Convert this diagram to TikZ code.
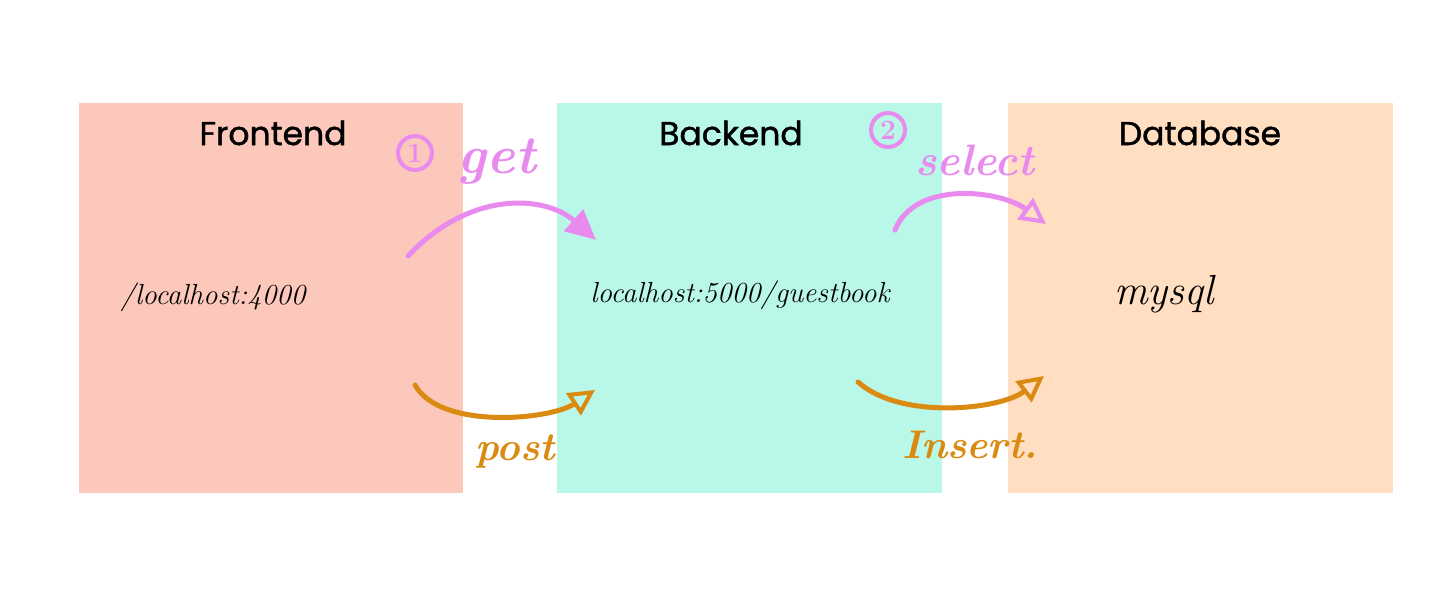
\documentclass[tikz,border=0pt]{standalone}
\usepackage{fontspec}
\usetikzlibrary{arrows.meta}
\newfontfamily\titlefont{Poppins}[FakeBold=1.2]
\definecolor{feFill}{HTML}{FCC8BB}
\definecolor{beFill}{HTML}{B9F8E8}
\definecolor{dbFill}{HTML}{FFDEC2}
\definecolor{pinkInk}{HTML}{E98BEE}
\definecolor{orangeInk}{HTML}{DA8A10}
\tikzset{
  title/.style={font=\titlefont\fontsize{16.5}{20}\selectfont, text=black},
  hand/.style={font=\itshape\fontsize{14.5}{17}\selectfont, text=black},
  pinkline/.style={draw=pinkInk, line width=2.5pt, line cap=round},
  orangeline/.style={draw=orangeInk, line width=2.5pt, line cap=round},
  pinklabel/.style={text=pinkInk, font=\bfseries\itshape\fontsize{27}{31}\selectfont},
  orangelabel/.style={text=orangeInk, font=\bfseries\itshape\fontsize{20}{24}\selectfont},
  numcirc/.style={circle, draw=pinkInk, line width=2pt, text=pinkInk, inner sep=0pt, minimum size=17pt, font=\bfseries\fontsize{14}{15}\selectfont}
}
\begin{document}
\begin{tikzpicture}[x=0.5pt, y=-0.5pt]
\useasboundingbox (0,0) rectangle (1440,603);
\fill[white] (0,0) rectangle (1440,603);
% panels
\fill[feFill] (79,103) rectangle (463,493);
\fill[beFill] (557,103) rectangle (942,493);
\fill[dbFill] (1008,103) rectangle (1393,493);
% titles
\node[title] (fe) at (273,133) {Frontend};
\node[title] (be) at (731,133) {Backend};
\node[title] (db) at (1200,133) {Database};
% handwritten texts
\node[hand] (feurl) at (213,297) {/localhost:4000};
\node[hand] (beurl) at (740,295) {localhost:5000/guestbook};
\node[hand, font=\itshape\fontsize{21}{24}\selectfont] (mysql) at (1164,294) {mysql};
% labels
\node[numcirc] (n1) at (415,153) {1};
\node[pinklabel] (get) at (497,162) {get};
\node[numcirc] (n2) at (888,130) {2};
\node[pinklabel, font=\bfseries\itshape\fontsize{22}{25}\selectfont] (select) at (975,160) {select};
\node[orangelabel] (post) at (515,452) {post};
\node[orangelabel] (insert) at (970,445) {Insert.};
% arrow ends
\coordinate (g1) at (408,256);
\coordinate (g2) at (596,240);
\coordinate (s1) at (895,230);
\coordinate (s2) at (1046,224);
\coordinate (p1) at (415,385);
\coordinate (p2) at (595,390);
\coordinate (i1) at (858,382);
\coordinate (i2) at (1044,376);
% arrows
\draw[pinkline, -{Triangle[length=15pt,width=14pt,fill=pinkInk]}] (g1) .. controls (470,190) and (545,195) .. (g2);
\draw[pinkline, -{Triangle[open,length=13pt,width=13pt,line width=2pt]}] (s1) .. controls (915,180) and (1000,190) .. (s2);
\draw[orangeline, -{Triangle[open,length=13pt,width=13pt,line width=2pt]}] (p1) .. controls (440,430) and (550,420) .. (p2);
\draw[orangeline, -{Triangle[open,length=13pt,width=13pt,line width=2pt]}] (i1) .. controls (900,420) and (1000,410) .. (i2);
\end{tikzpicture}
\end{document}
